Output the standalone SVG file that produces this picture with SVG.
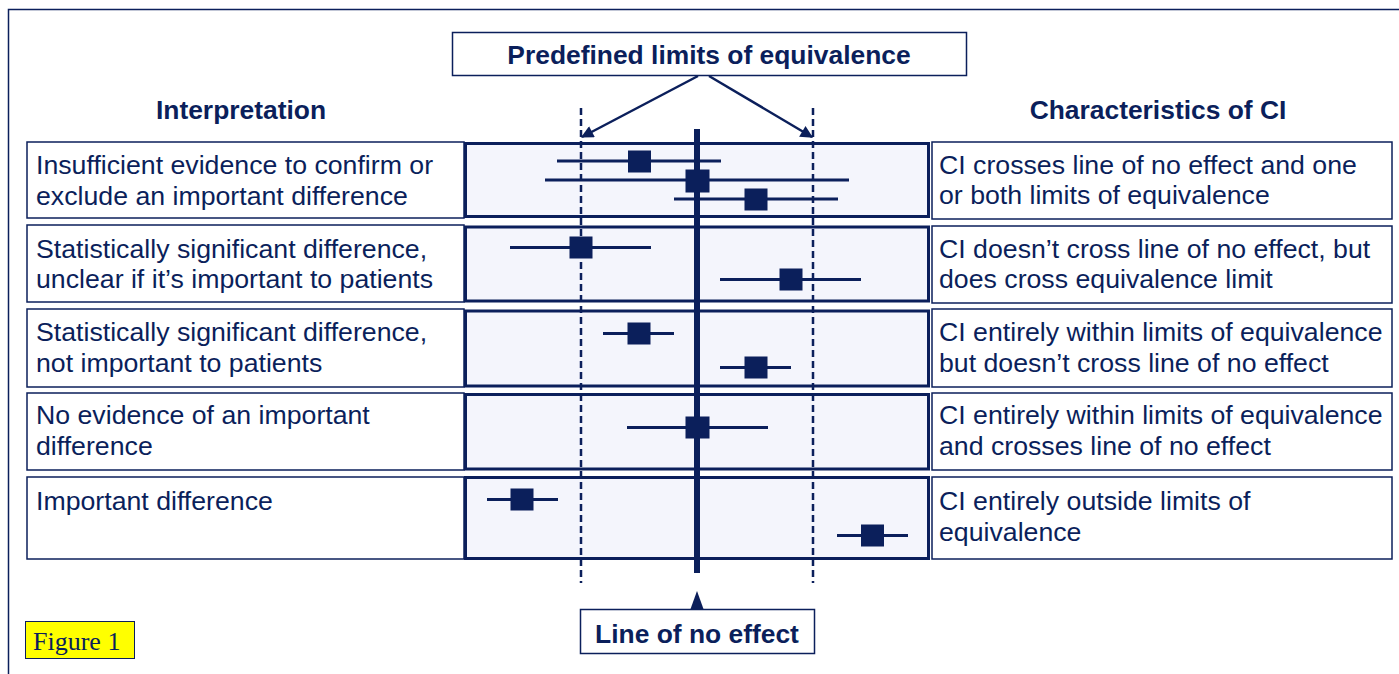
<svg xmlns="http://www.w3.org/2000/svg" width="1399" height="674" viewBox="0 0 1399 674">
<defs>
<style>
.txt{font-family:"Liberation Sans",Arial,sans-serif;font-size:26.7px;fill:#0b1f5b}
.bold{font-weight:bold;text-anchor:middle;font-size:26.4px}
.thin{fill:#ffffff;stroke:#0b1f5b;stroke-width:1.5}
.mid{fill:#f4f5fc;stroke:#0b1f5b;stroke-width:3}
.ci{stroke:#0b1f5b;stroke-width:3}
.sq{fill:#0b1f5b}
.dash{stroke:#0b1f5b;stroke-width:2.5;stroke-dasharray:7 4;fill:none}
.conn{stroke:#0b1f5b;stroke-width:2.5;fill:none}
</style>
<marker id="ah" viewBox="0 0 10 10" refX="9" refY="5" markerWidth="6" markerHeight="5" markerUnits="strokeWidth" orient="auto">
<path d="M0,0 L10,5 L0,10 z" fill="#0b1f5b"/>
</marker>
</defs>
<rect width="1399" height="674" fill="#ffffff"/>
<path d="M8.5 674 V9.5 H1399" fill="none" stroke="#0b1f5b" stroke-width="1.5"/>

<g id="title-limits">
<rect class="thin" x="452.5" y="32.5" width="514" height="43"/>
<text class="txt bold" x="709" y="64">Predefined limits of equivalence</text>
</g>
<g id="header-interpretation"><text class="txt bold" x="241" y="119">Interpretation</text></g>
<g id="header-characteristics"><text class="txt bold" x="1158" y="119">Characteristics of CI</text></g>

<g id="interp-1"><rect class="thin" x="27" y="142" width="437" height="76"/>
<text class="txt" x="36" y="174">Insufficient evidence to confirm or</text>
<text class="txt" x="36" y="205">exclude an important difference</text></g>
<g id="interp-2"><rect class="thin" x="27" y="225" width="437" height="77"/>
<text class="txt" x="36" y="258">Statistically significant difference,</text>
<text class="txt" x="36" y="288">unclear if it’s important to patients</text></g>
<g id="interp-3"><rect class="thin" x="27" y="309" width="437" height="78"/>
<text class="txt" x="36" y="341">Statistically significant difference,</text>
<text class="txt" x="36" y="372">not important to patients</text></g>
<g id="interp-4"><rect class="thin" x="27" y="393" width="437" height="77"/>
<text class="txt" x="36" y="424">No evidence of an important</text>
<text class="txt" x="36" y="455">difference</text></g>
<g id="interp-5"><rect class="thin" x="27" y="477" width="437" height="82"/>
<text class="txt" x="36" y="510">Important difference</text></g>

<g id="char-1"><rect class="thin" x="932" y="142" width="460" height="77"/>
<text class="txt" x="939" y="174">CI crosses line of no effect and one</text>
<text class="txt" x="939" y="204">or both limits of equivalence</text></g>
<g id="char-2"><rect class="thin" x="932" y="226" width="460" height="77"/>
<text class="txt" x="939" y="258">CI doesn’t cross line of no effect, but</text>
<text class="txt" x="939" y="288">does cross equivalence limit</text></g>
<g id="char-3"><rect class="thin" x="932" y="309" width="460" height="78"/>
<text class="txt" x="939" y="341">CI entirely within limits of equivalence</text>
<text class="txt" x="939" y="372">but doesn’t cross line of no effect</text></g>
<g id="char-4"><rect class="thin" x="932" y="393" width="460" height="77"/>
<text class="txt" x="939" y="424">CI entirely within limits of equivalence</text>
<text class="txt" x="939" y="455">and crosses line of no effect</text></g>
<g id="char-5"><rect class="thin" x="932" y="477" width="460" height="82"/>
<text class="txt" x="939" y="510">CI entirely outside limits of</text>
<text class="txt" x="939" y="541">equivalence</text></g>

<g id="plot-boxes">
<rect class="mid" x="465.5" y="143.5" width="463" height="73"/>
<rect class="mid" x="465.5" y="227" width="463" height="74"/>
<rect class="mid" x="465.5" y="311" width="463" height="75"/>
<rect class="mid" x="465.5" y="394.5" width="463" height="74.5"/>
<rect class="mid" x="465.5" y="477.5" width="463" height="81"/>
</g>

<g id="reference-lines">
<line class="dash" x1="581" y1="108" x2="581" y2="583"/>
<line class="dash" x1="813" y1="108" x2="813" y2="583"/>
<line x1="697" y1="129" x2="697" y2="573" stroke="#0b1f5b" stroke-width="6"/>
</g>

<g id="confidence-intervals">
<line class="ci" x1="557" y1="161" x2="721" y2="161"/><rect class="sq" x="628" y="150.5" width="23" height="22"/>
<line class="ci" x1="545" y1="180" x2="849" y2="180"/><rect class="sq" x="685.5" y="169.5" width="24" height="23"/>
<line class="ci" x1="674" y1="199" x2="838" y2="199"/><rect class="sq" x="744.5" y="188.5" width="23" height="22"/>
<line class="ci" x1="510" y1="247.5" x2="651" y2="247.5"/><rect class="sq" x="569.5" y="236.5" width="23" height="22"/>
<line class="ci" x1="720" y1="279.5" x2="861" y2="279.5"/><rect class="sq" x="779.5" y="268.5" width="23" height="22"/>
<line class="ci" x1="603" y1="333.5" x2="674" y2="333.5"/><rect class="sq" x="627.5" y="322.5" width="23" height="22"/>
<line class="ci" x1="720" y1="367.5" x2="791" y2="367.5"/><rect class="sq" x="744.5" y="356.5" width="23" height="22"/>
<line class="ci" x1="627" y1="427.5" x2="768" y2="427.5"/><rect class="sq" x="685.5" y="416.5" width="24" height="22"/>
<line class="ci" x1="487" y1="499.5" x2="558" y2="499.5"/><rect class="sq" x="510.5" y="488.5" width="23" height="22"/>
<line class="ci" x1="837" y1="535.5" x2="908" y2="535.5"/><rect class="sq" x="861" y="524.5" width="23" height="22"/>
</g>

<g id="connectors">
<line class="conn" x1="698" y1="76" x2="582" y2="137" marker-end="url(#ah)"/>
<line class="conn" x1="709" y1="76" x2="812" y2="137" marker-end="url(#ah)"/>
<path d="M690.5 609 L697 591 L703.5 609 Z" fill="#0b1f5b"/>
</g>

<g id="label-no-effect">
<rect class="thin" x="580.5" y="609.5" width="234" height="44"/>
<text class="txt bold" x="697" y="643">Line of no effect</text>
</g>

<g id="figure-label">
<rect x="25.5" y="621.5" width="109" height="37" fill="#ffff00" stroke="#0b1f5b" stroke-width="1"/>
<text x="33" y="650" font-family="'Liberation Serif','Times New Roman',serif" font-size="26" fill="#0b1f5b">Figure 1</text>
</g>
</svg>
